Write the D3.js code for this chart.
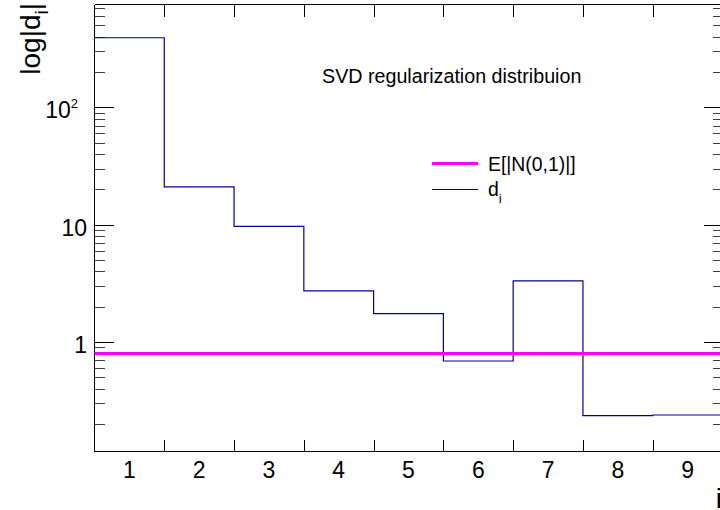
<!DOCTYPE html>
<html lang="en">
  <head>
    <meta charset="UTF-8" />
    <title>SVD regularization distribuion</title>
    <style>
      body { margin: 0; background: #fff; }
      svg { display: block; font-family: 'Liberation Sans', Arial, Helvetica, sans-serif; }
      .tick line, .frame line { stroke: #000; shape-rendering: crispEdges; }
    </style>
    <script src="https://cdn.jsdelivr.net/npm/d3@7"></script>
  </head>
  <body>
    <svg width="720" height="510"></svg>
    <script>
      // bins 1..9, singular values d_i
      var categories = [1, 2, 3, 4, 5, 6, 7, 8, 9]
      var dValues = [392, 21.0, 9.7, 2.73, 1.75, 0.69, 3.32, 0.236, 0.239]
      var expectation = 0.7979 // E[|N(0,1)|]
      var yMajorTicks = [1, 10, 100]
      var yTickLabels = ['1', '10', '10^2']

      var frameL = 94.5, frameR = 722.5, frameT = 4.5, frameB = 451.5

      var svg = d3.select('svg')

      var x = d3.scaleLinear().domain([0.5, 9.5]).range([frameL, frameR])
      var y = d3.scaleLog().domain([0.1168, 753]).range([frameB, frameT])

      // minor ticks 2..9 per decade
      var yMinor = []
      ;[0.1, 1, 10, 100].forEach(function(dec) {
        for (var k = 2; k <= 9; k++) {
          var v = dec * k
          if (v > y.domain()[0] && v < y.domain()[1]) yMinor.push(v)
        }
      })

      var ypos = function(d) { return Math.round(y(d)) + 0.5 }
      var g = svg.append('g').attr('class', 'tick')

      // y ticks, left and right sides
      g.selectAll('.ymajL').data(yMajorTicks).enter().append('line')
        .attr('x1', frameL).attr('x2', frameL + 19)
        .attr('y1', ypos).attr('y2', ypos)
      g.selectAll('.yminL').data(yMinor).enter().append('line')
        .attr('x1', frameL).attr('x2', frameL + 10)
        .attr('y1', ypos).attr('y2', ypos)
        .attr('stroke-opacity', 0.75)
      g.selectAll('.ymajR').data(yMajorTicks).enter().append('line')
        .attr('x1', frameR).attr('x2', frameR - 19)
        .attr('y1', ypos).attr('y2', ypos)
      g.selectAll('.yminR').data(yMinor).enter().append('line')
        .attr('x1', frameR).attr('x2', frameR - 10)
        .attr('y1', ypos).attr('y2', ypos)
        .attr('stroke-opacity', 0.75)

      // x ticks at bin edges
      var edges = categories.slice(0, -1).map(function(c) { return c + 0.5 })
      var xpos = function(d) { return Math.round(x(d)) + 0.5 }
      g.selectAll('.xb').data(edges).enter().append('line')
        .attr('x1', xpos).attr('x2', xpos)
        .attr('y1', frameB).attr('y2', frameB - 12)
      g.selectAll('.xt').data(edges).enter().append('line')
        .attr('x1', xpos).attr('x2', xpos)
        .attr('y1', frameT).attr('y2', frameT + 12)

      // frame
      var frame = svg.append('g').attr('class', 'frame')
      frame.append('line').attr('x1', frameL).attr('x2', frameL).attr('y1', frameT).attr('y2', frameB).attr('stroke-width', 1.5)
      frame.append('line').attr('x1', frameL).attr('x2', frameR).attr('y1', frameB).attr('y2', frameB).attr('stroke-width', 1.5)
      frame.append('line').attr('x1', frameL).attr('x2', frameR).attr('y1', frameT).attr('y2', frameT).attr('stroke-width', 1.5)
      frame.append('line').attr('x1', frameR).attr('x2', frameR).attr('y1', frameT).attr('y2', frameB).attr('stroke-width', 1.5)

      // x labels at bin centres
      svg.selectAll('.xl').data(categories).enter().append('text')
        .attr('x', function(d) { return x(d) })
        .attr('y', 478)
        .attr('text-anchor', 'middle')
        .attr('font-size', 23)
        .text(function(d) { return d })

      // y labels
      yMajorTicks.forEach(function(v, i) {
        var lab = yTickLabels[i]
        var t = svg.append('text')
          .attr('y', y(v) + 11)
          .attr('text-anchor', 'end')
          .attr('font-size', 23)
        if (lab.indexOf('^') >= 0) {
          var parts = lab.split('^')
          t.attr('x', 78)
          t.append('tspan').text(parts[0])
          t.append('tspan').attr('font-size', 13).attr('dy', -10).text(parts[1])
        } else {
          t.attr('x', 87).text(lab)
        }
      })

      // histogram step line
      var pathD = ''
      categories.forEach(function(c, i) {
        var yy = y(dValues[i])
        pathD += (i === 0 ? 'M' + x(c - 0.5) + ',' + yy : 'V' + yy) + 'H' + x(c + 0.5)
      })
      svg.append('path')
        .attr('d', pathD)
        .attr('fill', 'none')
        .attr('stroke', '#000099')
        .attr('stroke-width', 1.2)

      // expectation line
      svg.append('line')
        .attr('x1', frameL).attr('x2', frameR)
        .attr('y1', y(expectation)).attr('y2', y(expectation))
        .attr('stroke', '#ff00ff')
        .attr('stroke-width', 3)

      // title
      svg.append('text')
        .attr('x', 322).attr('y', 83)
        .attr('font-size', 19.7)
        .text('SVD regularization distribuion')

      // legend
      var leg = svg.append('g')
      leg.append('line').attr('x1', 432).attr('x2', 478).attr('y1', 163.5).attr('y2', 163.5)
        .attr('stroke', '#ff00ff').attr('stroke-width', 3)
      leg.append('text').attr('x', 488).attr('y', 171).attr('font-size', 19.4).text('E[|N(0,1)|]')
      leg.append('line').attr('x1', 432).attr('x2', 478).attr('y1', 189.5).attr('y2', 189.5)
        .attr('stroke', '#000099').attr('stroke-width', 1.2)
      var dl = leg.append('text').attr('x', 488).attr('y', 196).attr('font-size', 19.4)
      dl.append('tspan').text('d')
      dl.append('tspan').attr('font-size', 13).attr('dy', 7).text('i')

      // axis titles
      var yt = svg.append('text')
        .attr('transform', 'translate(40,3) rotate(-90)')
        .attr('text-anchor', 'end')
        .attr('font-size', 28)
      yt.append('tspan').text('log|d')
      yt.append('tspan').attr('font-size', 19).attr('dy', 8).text('i')
      yt.append('tspan').attr('dy', -8).text('|')

      svg.append('text')
        .attr('x', 722).attr('y', 508)
        .attr('text-anchor', 'end')
        .attr('font-size', 28)
        .text('i')
    </script>
  </body>
</html>
